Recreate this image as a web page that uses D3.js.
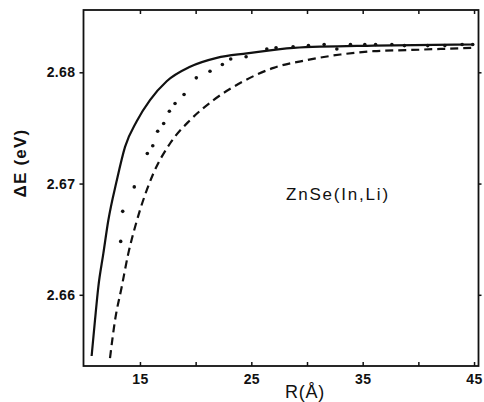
<!DOCTYPE html>
<html>
<head>
<meta charset="utf-8">
<script src="https://cdn.jsdelivr.net/npm/d3@7"></script>
<style>
  body { margin: 0; background: #fff; }
  svg { display: block; font-family: 'Liberation Sans', Arial, sans-serif; }
  .tick-label { font-size: 14px; font-weight: bold; fill: #111; letter-spacing: 0.4px; }
</style>
</head>
<body>
<svg id="chart" width="484" height="402"></svg>
<script>
// solid curve (R in Angstrom, Delta E in eV)
var solidR = [10.66, 10.96, 11.26, 11.71, 12.16, 12.9, 13.66, 14.71, 15.9, 17.4, 19.5, 21.9, 24.6, 28.8, 36.0, 45.0]
var solidE = [2.6545, 2.6577, 2.6607, 2.6637, 2.6667, 2.6702, 2.6733, 2.6756, 2.6775, 2.6792, 2.6805, 2.6813, 2.6817, 2.6822, 2.6824, 2.6825]

// dashed curve
var dashedR = [12.31, 12.76, 13.36, 13.95, 14.56, 15.0, 16.2, 17.7, 19.5, 21.6, 24.3, 27.0, 30.0, 33.0, 36.0, 39.0, 42.0, 45.0]
var dashedE = [2.6543, 2.6577, 2.6607, 2.6637, 2.6661, 2.6676, 2.6709, 2.6736, 2.6757, 2.6775, 2.6792, 2.6804, 2.6811, 2.6816, 2.6819, 2.6820, 2.6821, 2.6822]

// dotted points
var dotR = [13.27, 13.45, 14.49, 15.66, 16.15, 16.59, 17.13, 17.64, 18.15, 18.96, 20.06, 21.29, 22.4, 23.15, 24.53, 26.39, 27.22, 28.75, 30.13, 31.54, 32.68, 33.9, 35.19, 36.16, 37.62, 38.75, 40.84, 42.38, 43.93, 44.88]
var dotE = [2.6648, 2.6675, 2.6697, 2.6727, 2.6734, 2.6747, 2.6754, 2.6765, 2.6772, 2.678, 2.6795, 2.6801, 2.6807, 2.6812, 2.6814, 2.6821, 2.6822, 2.6823, 2.6824, 2.6825, 2.6821, 2.6825, 2.6825, 2.6825, 2.6825, 2.6824, 2.6824, 2.6824, 2.6825, 2.6825]

// axes
var xDomain = [9.93, 45.4]
var yDomain = [2.6536, 2.6856]
var xTicks = [15, 20, 25, 30, 35, 40, 45]
var xTickLabels = [15, 25, 35, 45]
var yTicks = [2.66, 2.67, 2.68]

var plotLeft = 83.5
var plotRight = 478.5
var plotTop = 10
var plotBottom = 366

var svg = d3.select('#chart')

var x = d3.scaleLinear().domain(xDomain).range([plotLeft, plotRight])
var y = d3.scaleLinear().domain(yDomain).range([plotBottom, plotTop])

/**
 * Zips two arrays into a list of points.
 *
 * @param {number[]} xs The x values
 * @param {number[]} ys The y values
 * @returns {object[]} The points
 */
function zip (xs, ys) {
  return xs.map((v, i) => ({ r: v, e: ys[i] }))
}

// frame
svg.append('rect')
  .attr('x', plotLeft)
  .attr('y', plotTop)
  .attr('width', plotRight - plotLeft)
  .attr('height', plotBottom - plotTop)
  .attr('fill', 'none')
  .attr('stroke', '#111')
  .attr('stroke-width', 1.8)

// x ticks, pointing inside on top and bottom
var bottomAxis = d3.axisBottom(x).tickValues(xTicks).tickSizeInner(-4).tickSizeOuter(0)
  .tickFormat(d => xTickLabels.includes(d) ? d : '')
svg.append('g')
  .attr('transform', 'translate(0,' + plotBottom + ')')
  .call(bottomAxis)
  .call(g => g.select('.domain').remove())
  .call(g => g.selectAll('line').attr('stroke', '#111').attr('stroke-width', 1.5))
  .call(g => g.selectAll('text').attr('class', 'tick-label').attr('y', 8).attr('font-family', null).attr('font-size', null))

svg.append('g')
  .attr('transform', 'translate(0,' + plotTop + ')')
  .call(d3.axisTop(x).tickValues(xTicks).tickSizeInner(-4).tickSizeOuter(0).tickFormat(''))
  .call(g => g.select('.domain').remove())
  .call(g => g.selectAll('line').attr('stroke', '#111').attr('stroke-width', 1.5))

// y ticks, pointing outside
svg.append('g')
  .attr('transform', 'translate(' + plotLeft + ',0)')
  .call(d3.axisLeft(y).tickValues(yTicks).tickSize(4).tickPadding(4).tickFormat(d3.format('.2f')))
  .call(g => g.select('.domain').remove())
  .call(g => g.selectAll('line').attr('stroke', '#111').attr('stroke-width', 1.5))
  .call(g => g.selectAll('text').attr('class', 'tick-label').attr('font-family', null).attr('font-size', null))

svg.append('g')
  .attr('transform', 'translate(' + plotRight + ',0)')
  .call(d3.axisRight(y).tickValues(yTicks).tickSize(3).tickFormat(''))
  .call(g => g.select('.domain').remove())
  .call(g => g.selectAll('line').attr('stroke', '#111').attr('stroke-width', 1.5))

var line = d3.line()
  .x(d => x(d.r))
  .y(d => y(d.e))
  .curve(d3.curveMonotoneX)

svg.append('path')
  .datum(zip(solidR, solidE))
  .attr('d', line)
  .attr('fill', 'none')
  .attr('stroke', '#111')
  .attr('stroke-width', 2.2)

svg.append('path')
  .datum(zip(dashedR, dashedE))
  .attr('d', line)
  .attr('fill', 'none')
  .attr('stroke', '#111')
  .attr('stroke-width', 2.2)
  .attr('stroke-dasharray', '8,5')

svg.selectAll('.dot')
  .data(zip(dotR, dotE))
  .enter()
  .append('circle')
  .attr('class', 'dot')
  .attr('cx', d => x(d.r))
  .attr('cy', d => y(d.e))
  .attr('r', 1.8)
  .attr('fill', '#111')

// titles
svg.append('text')
  .attr('x', 305)
  .attr('y', 398)
  .attr('text-anchor', 'middle')
  .attr('font-size', 18)
  .attr('letter-spacing', 0.8)
  .attr('fill', '#111')
  .text('R(Å)')

svg.append('text')
  .attr('transform', 'translate(26,163) rotate(-90)')
  .attr('text-anchor', 'middle')
  .attr('font-size', 17)
  .attr('font-weight', 'bold')
  .attr('letter-spacing', 1.2)
  .attr('fill', '#111')
  .text('ΔE (eV)')

svg.append('text')
  .attr('x', 286)
  .attr('y', 200)
  .attr('font-size', 17)
  .attr('letter-spacing', 1.8)
  .attr('fill', '#111')
  .text('ZnSe(In,Li)')
</script>
</body>
</html>
